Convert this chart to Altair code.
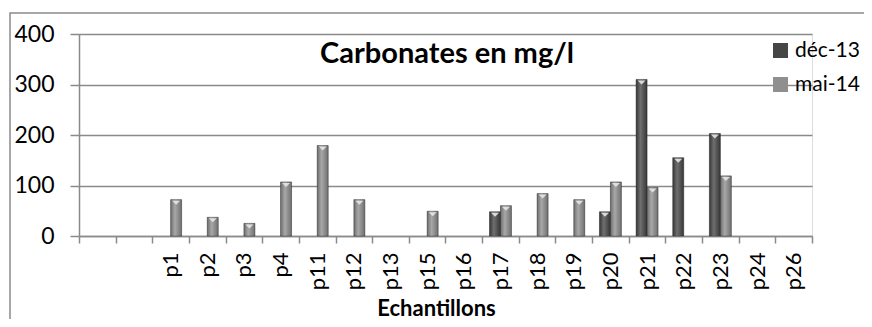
import altair as alt
import pandas as pd

# ---- data ----
categories = ["_a", "_b", "p1", "p2", "p3", "p4", "p11", "p12", "p13", "p15",
              "p16", "p17", "p18", "p19", "p20", "p21", "p22", "p23", "p24", "p26"]
dec13 = [None, None, None, None, None, None, None, None, None, None,
         None, 48, None, None, 48, 310, 155, 203, None, None]
mai14 = [None, None, 72, 37, 25, 107, 179, 72, None, 49,
         None, 60, 84, 72, 107, 96, None, 119, None, None]
series_names = ["déc-13", "mai-14"]
series_colors = ["#464646", "#8f8f8f"]
y_ticks = [0, 100, 200, 300, 400]
chart_title = "Carbonates en mg/l"

rows = []
for name, vals in zip(series_names, [dec13, mai14]):
    for c, v in zip(categories, vals):
        if v is not None:
            rows.append({"cat": c, "serie": name, "val": v})
df = pd.DataFrame(rows)

FONT = "Lato"
GRID = "#8a8a8a"

x_enc = alt.X("cat:N", sort=categories,
              scale=alt.Scale(domain=categories, paddingInner=0, paddingOuter=0),
              axis=alt.Axis(title="Echantillons", labelAngle=270, labelFontSize=22,
                            labelFont=FONT, labelColor="#000000", labelPadding=9,
                            labelExpr="substring(datum.value,0,1)=='_' ? '' : datum.value",
                            tickBand="extent", tickSize=7, tickColor=GRID,
                            domainColor=GRID, domainWidth=1.5, tickWidth=1.5,
                            titleFont=FONT, titleFontSize=22, titleFontWeight="bold",
                            titleColor="#000000", titleX=357, titleY=62,
                            titleBaseline="top", titleAlign="center"))
xo_enc = alt.XOffset("serie:N", sort=series_names,
                     scale=alt.Scale(domain=series_names, paddingInner=0, paddingOuter=0.67))
y_enc = alt.Y("val:Q", scale=alt.Scale(domain=[0, 400], nice=False),
              axis=alt.Axis(title=None, values=y_ticks, labelFontSize=23, labelFont=FONT,
                            labelColor="#000000", labelPadding=16, tickSize=9,
                            tickColor=GRID, tickWidth=1.5, domainColor=GRID, domainWidth=1.5,
                            grid=True, gridColor=GRID, gridWidth=1.5))

base = alt.Chart(df)

bars = base.mark_bar(stroke="#303030", strokeWidth=0.5).encode(
    x=x_enc, xOffset=xo_enc, y=y_enc,
    color=alt.Color("serie:N", sort=series_names,
                    scale=alt.Scale(domain=series_names, range=series_colors),
                    legend=alt.Legend(title=None, orient="none", legendX=691, legendY=6,
                                      symbolType="square", symbolSize=225,
                                      symbolStrokeWidth=0, labelFont=FONT,
                                      labelFontSize=21, labelColor="#000000",
                                      labelOffset=4, rowPadding=12, padding=0)),
)

shine = base.mark_bar(
    color=alt.Gradient(
        gradient="linear", x1=0, x2=1, y1=0, y2=0,
        stops=[alt.GradientStop(color="rgba(0,0,0,0.25)", offset=0),
               alt.GradientStop(color="rgba(255,255,255,0.22)", offset=0.4),
               alt.GradientStop(color="rgba(0,0,0,0.22)", offset=1)])
).encode(x=alt.X("cat:N", sort=categories), xOffset=alt.XOffset("serie:N", sort=series_names),
         y=alt.Y("val:Q"))

tips = base.mark_point(shape="M-1,-0.5L1,-0.5L0,0.5Z", filled=True, color="#e6e6e6",
                       size=64, opacity=0.9, yOffset=3, strokeWidth=0).encode(
    x=alt.X("cat:N", sort=categories), xOffset=alt.XOffset("serie:N", sort=series_names),
    y=alt.Y("val:Q"))

frame = alt.Chart(alt.Data(values=[{}])).mark_rect(
    fillOpacity=0, stroke=GRID, strokeWidth=1.5).encode(
    x=alt.value(-69), x2=alt.value(830), y=alt.value(-21), y2=alt.value(330))

title_txt = alt.Chart(alt.Data(values=[{}])).mark_text(
    font=FONT, fontSize=29, fontWeight="bold", color="#000000",
    align="center", baseline="alphabetic").encode(
    text=alt.value(chart_title), x=alt.value(368), y=alt.value(29))

chart = alt.layer(frame, bars, shine, tips, title_txt).properties(
    width=733, height=202,
    autosize=alt.AutoSizeParams(type="none"),
    padding={"left": 71, "top": 26, "right": 52, "bottom": 83},
).configure_view(stroke=None).configure(background="white")

chart.save("out.html", embed_options={"renderer": "svg", "actions": False})
